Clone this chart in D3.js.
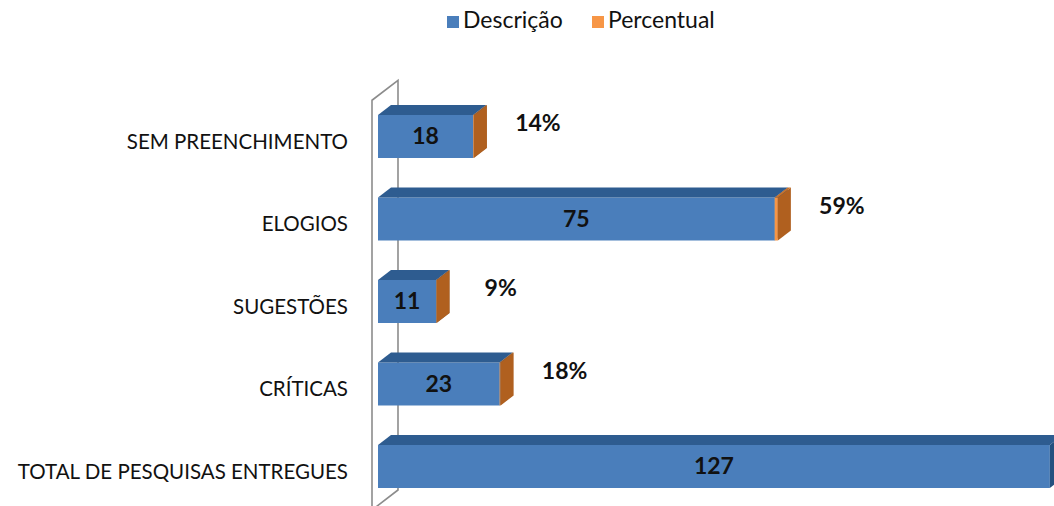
<!DOCTYPE html>
<html><head><meta charset="utf-8">
<script src="https://cdn.jsdelivr.net/npm/d3@7/dist/d3.min.js"></script>
<style>body{margin:0;background:#fff;}svg{display:block;font-family:Lato,"Open Sans",sans-serif;}</style>
</head><body>
<svg id="c" width="1054" height="506"></svg>
<script>
const categories = ["SEM PREENCHIMENTO","ELOGIOS","SUGESTÕES","CRÍTICAS","TOTAL DE PESQUISAS ENTREGUES"];
const descricao = [18, 75, 11, 23, 127];
const percentual = [0.14, 0.59, 0.09, 0.18, null];
const seriesNames = ["Descrição","Percentual"];

const svg = d3.select("#c");
const DX = 13, DY = -10;           // bar depth offset
const WDX = 26, WDY = -20;         // wall depth offset

const x = d3.scaleLinear().domain([0, 140]).range([378, 378 + 140 * 5.29]);
const y = d3.scaleBand().domain(categories).range([95.25, 507.75]).paddingInner(0.479).paddingOuter(0.2395);

const colors = {
  blue: {front: "#4a7ebb", top: "#2e5c90", side: "#24507f"},
  orange: {front: "#f79646", top: "#c9732c", side: "#b0601f"}
};

// wall (3D y-axis plane)
const wx = 372;
svg.append("path")
  .attr("d", `M${wx},${y.range()[0]+5} L${wx+WDX},${y.range()[0]+5+WDY} L${wx+WDX},${490} L${wx},${490-WDY} Z`)
  .attr("fill", "none").attr("stroke", "#8c8c8c").attr("stroke-width", 1.6);

function box(g, x0, x1, yt, h, c) {
  const w = Math.max(x1 - x0, 0);
  g.append("rect").attr("x", x0).attr("y", yt).attr("width", w).attr("height", h).attr("fill", c.front);
  g.append("path").attr("d", `M${x0},${yt} L${x0+DX},${yt+DY} L${x1+DX},${yt+DY} L${x1},${yt} Z`).attr("fill", c.top);
  g.append("path").attr("d", `M${x1},${yt} L${x1+DX},${yt+DY} L${x1+DX},${yt+h+DY} L${x1},${yt+h} Z`).attr("fill", c.side);
}

categories.forEach((cat, i) => {
  const g = svg.append("g");
  const yt = y(cat), h = y.bandwidth();
  const v = descricao[i], p = percentual[i];
  box(g, x(0), x(v), yt, h, colors.blue);
  if (p != null) box(g, x(v), x(v + p), yt, h, colors.orange);
  g.append("text").attr("x", (x(0) + x(v)) / 2).attr("y", yt + h / 2 + 2)
    .attr("text-anchor", "middle").attr("dominant-baseline", "middle")
    .attr("font-weight", "bold").attr("font-size", 23).attr("fill", "#111").text(v);
  if (p != null) {
    g.append("text").attr("x", x(v + p) + 64).attr("y", yt + h / 2 - 11)
      .attr("text-anchor", "middle").attr("dominant-baseline", "middle")
      .attr("font-weight", "bold").attr("font-size", 23).attr("fill", "#111").text(Math.round(p * 100) + "%");
  }
  svg.append("text").attr("x", 348).attr("y", yt + h / 2 + 7)
    .attr("text-anchor", "end").attr("dominant-baseline", "middle")
    .attr("font-size", 20.5).attr("fill", "#111").text(cat);
});

// legend
const leg = svg.append("g");
const legX = [447, 592];
seriesNames.forEach((s, i) => {
  leg.append("rect").attr("x", legX[i]).attr("y", 16).attr("width", 12).attr("height", 12)
    .attr("fill", i === 0 ? colors.blue.front : colors.orange.front);
  leg.append("text").attr("x", legX[i] + 16).attr("y", 22).attr("dominant-baseline", "middle")
    .attr("font-size", 23).attr("fill", "#111").text(s);
});
</script>
</body></html>
